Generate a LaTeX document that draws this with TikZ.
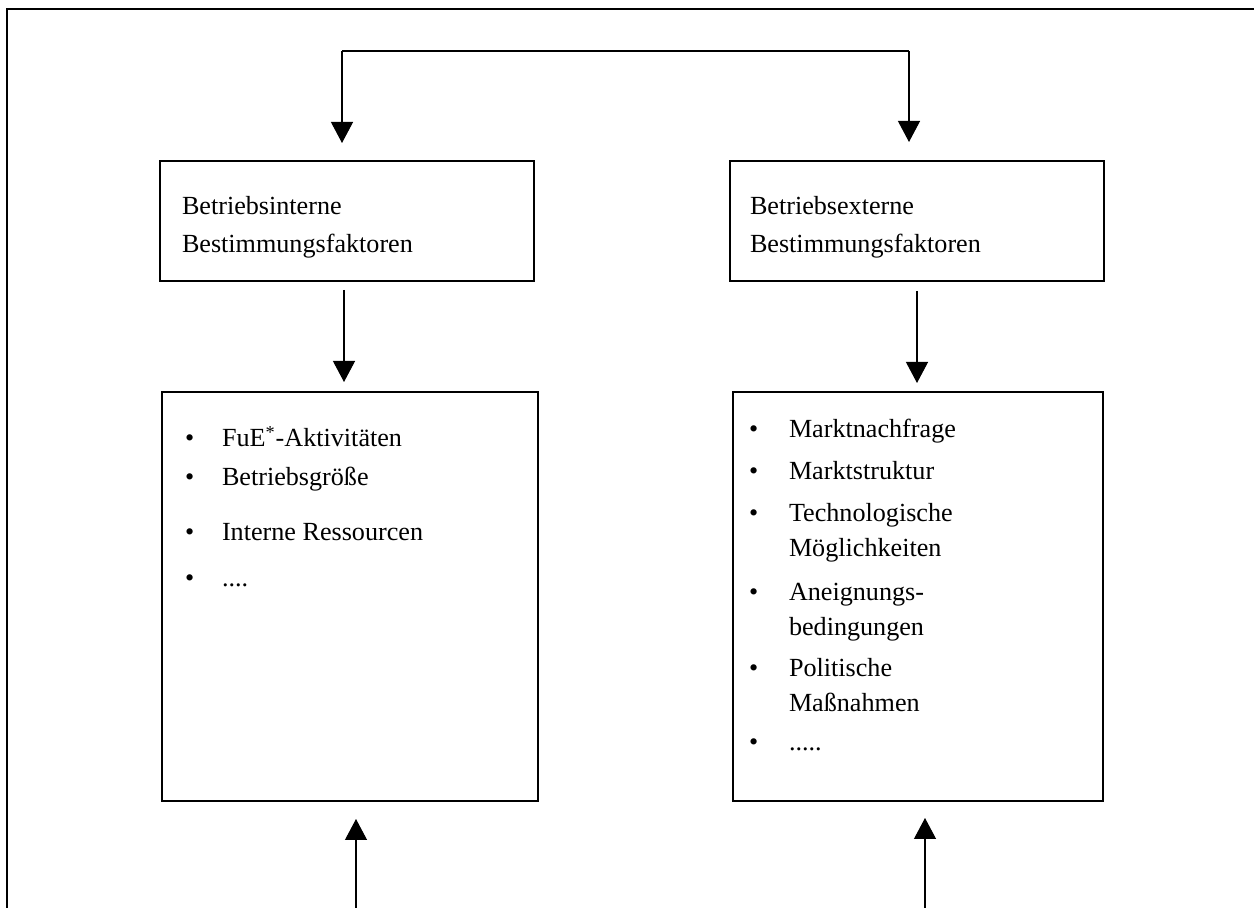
\documentclass[tikz,border=0pt]{standalone}
\usepackage{fontspec}
\setmainfont{Liberation Serif}
\usetikzlibrary{arrows.meta}
\begin{document}
\begin{tikzpicture}[x=0.5pt,y=-0.5pt,
  every node/.style={inner sep=0pt, outer sep=0pt},
  box/.style={draw, line width=0.75pt, rectangle},
  txt/.style={anchor=base west, font=\fontsize{13.07}{15}\selectfont},
  conn/.style={line width=0.6pt},
  framestyle/.style={line width=0.9pt},
  arr/.style={line width=0.6pt, -{Triangle[length=10.5pt,width=11pt]}}]
\useasboundingbox (0,0) rectangle (1254,908);
% frame
\draw[framestyle] (1254,9) -- (7,9) -- (7,908);
% boxes
\node[box, minimum width=187pt, minimum height=60pt] (b1) at (347,221) {};
\node[box, minimum width=187pt, minimum height=60pt] (b2) at (917,221) {};
\node[box, minimum width=188pt, minimum height=204.5pt] (b3) at (350,596.5) {};
\node[box, minimum width=185pt, minimum height=204.5pt] (b4) at (918,596.5) {};
% box texts
\node[txt] (b1a) at (182,215) {Betriebsinterne};
\node[txt] (b1b) at (182,253) {Bestimmungsfaktoren};
\node[txt] (b2a) at (750,215) {Betriebsexterne};
\node[txt] (b2b) at (750,253) {Bestimmungsfaktoren};
% left list
\node[txt] (l1d) at (185,447) {•};
\node[txt] (l1) at (222,447) {FuE\textsuperscript{*}-Aktivitäten};
\node[txt] (l2d) at (185,486) {•};
\node[txt] (l2) at (222,486) {Betriebsgröße};
\node[txt] (l3d) at (185,541) {•};
\node[txt] (l3) at (222,541) {Interne Ressourcen};
\node[txt] (l4d) at (185,587) {•};
\node[txt] (l4) at (222,587) {....};
% right list
\node[txt] (r1d) at (749,438) {•};
\node[txt] (r1) at (789,438) {Marktnachfrage};
\node[txt] (r2d) at (749,480) {•};
\node[txt] (r2) at (789,480) {Marktstruktur};
\node[txt] (r3d) at (749,522) {•};
\node[txt] (r3) at (789,522) {Technologische};
\node[txt] (r3b) at (789,557) {Möglichkeiten};
\node[txt] (r4d) at (749,601) {•};
\node[txt] (r4) at (789,601) {Aneignungs-};
\node[txt] (r4b) at (789,636) {bedingungen};
\node[txt] (r5d) at (749,677) {•};
\node[txt] (r5) at (789,677) {Politische};
\node[txt] (r5b) at (789,712) {Maßnahmen};
\node[txt] (r6d) at (749,751) {•};
\node[txt] (r6) at (789,751) {.....};
% connectors
\coordinate (s1) at (342,51);
\coordinate (s2) at (909,51);
\coordinate (t1) at (342,143);
\coordinate (t2) at (909,142);
\draw[conn] (s1) -- (s2);
\draw[arr] (s1) -- (t1);
\draw[arr] (s2) -- (t2);
\coordinate (m1) at (344,290);
\coordinate (m1e) at (344,382);
\coordinate (m2) at (917,291);
\coordinate (m2e) at (917,383);
\draw[arr] (m1) -- (m1e);
\draw[arr] (m2) -- (m2e);
\coordinate (u1) at (356,908);
\coordinate (u1e) at (356,819);
\coordinate (u2) at (925,908);
\coordinate (u2e) at (925,818);
\draw[arr] (u1) -- (u1e);
\draw[arr] (u2) -- (u2e);
\end{tikzpicture}
\end{document}
